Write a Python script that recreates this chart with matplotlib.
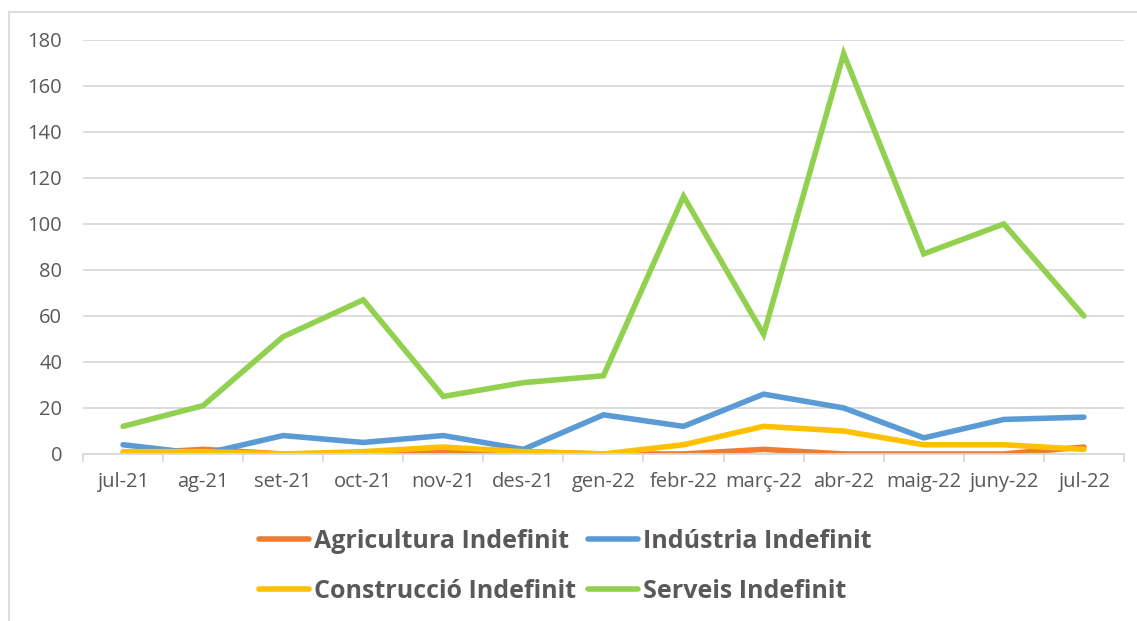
import matplotlib.pyplot as plt
from matplotlib.lines import Line2D
import numpy as np

plt.rcParams['font.family'] = ['Open Sans', 'DejaVu Sans']

months = ['jul-21', 'ag-21', 'set-21', 'oct-21', 'nov-21', 'des-21', 'gen-22',
          'febr-22', 'març-22', 'abr-22', 'maig-22', 'juny-22', 'jul-22']
agricultura = [0, 2, 0, 0, 1, 1, 0, 0, 2, 0, 0, 0, 3]
industria = [4, 0, 8, 5, 8, 2, 17, 12, 26, 20, 7, 15, 16]
construccio = [1, 1, 0, 1, 3, 1, 0, 4, 12, 10, 4, 4, 2]
serveis = [12, 21, 51, 67, 25, 31, 34, 112, 52, 174, 87, 100, 60]

series = [
    ('Agricultura Indefinit', agricultura, '#ed7d31'),
    ('Indústria Indefinit', industria, '#5b9bd5'),
    ('Construcció Indefinit', construccio, '#ffc000'),
    ('Serveis Indefinit', serveis, '#92d050'),
]

fig = plt.figure(figsize=(11.37, 6.21), dpi=100)
ax = fig.add_axes([0.0730, 0.269, 0.9155, 0.6667])

x = np.arange(len(months))
for name, vals, col in series:
    ax.plot(x, vals, color=col, lw=4, label=name, solid_capstyle='round',
            solid_joinstyle='miter')

ax.set_xlim(-0.5, len(months) - 0.5)
ax.set_ylim(0, 180)
ax.set_yticks(range(0, 181, 20))
ax.yaxis.grid(True, color='#d9d9d9', lw=1.3)
ax.set_axisbelow(True)
for s in ['top', 'right', 'left']:
    ax.spines[s].set_visible(False)
ax.spines['bottom'].set_color('#d9d9d9')
ax.spines['bottom'].set_linewidth(1.3)

ax.set_xticks(x)
ax.set_xticklabels(months)
ax.set_xticks(np.arange(-0.5, len(months), 1), minor=True)
ax.tick_params(axis='x', which='major', length=0, pad=13, labelsize=14.5, labelcolor='#595959')
ax.tick_params(axis='x', which='minor', length=6, width=1.3, color='#d9d9d9')
ax.tick_params(axis='y', length=0, pad=15, labelsize=14.5, labelcolor='#595959')

# legend fills by column, so order it to read row by row
order = [0, 2, 1, 3]
handles = [Line2D([0], [0], color=series[i][2], lw=4, solid_capstyle='round') for i in order]
labels = [series[i][0] for i in order]
leg = fig.legend(handles, labels, loc='center', bbox_to_anchor=(0.497, 0.088), ncol=2,
                 frameon=False, handlelength=2.0, handletextpad=0.2, columnspacing=0.5,
                 labelspacing=1.0, prop={'size': 18, 'weight': 'bold'})
for t in leg.get_texts():
    t.set_color('#595959')

# chart border
fig.add_artist(Line2D([9 / 1137, 1.0], [1 - 12 / 621, 1 - 12 / 621], color='#d9d9d9', lw=1.3))
fig.add_artist(Line2D([9 / 1137, 9 / 1137], [0, 1 - 12 / 621], color='#d9d9d9', lw=1.3))

fig.savefig('out.png', dpi=100)
